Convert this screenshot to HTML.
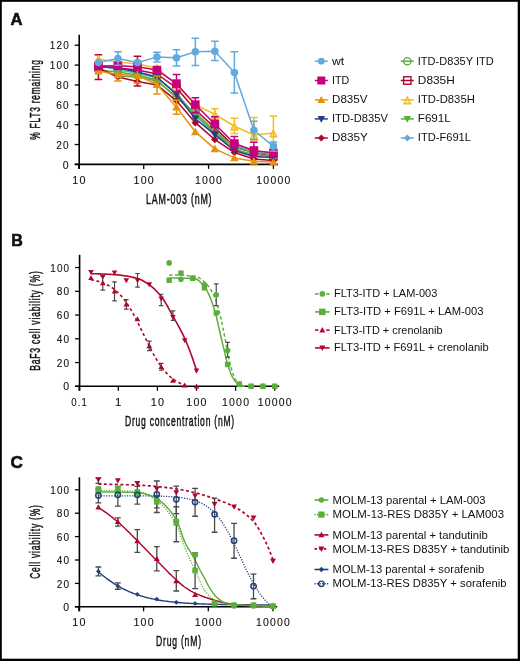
<!DOCTYPE html>
<html><head><meta charset="utf-8"><style>
html,body{margin:0;padding:0;background:#fff;}
body{width:520px;height:661px;overflow:hidden;position:relative;}
svg{position:absolute;left:0;top:0;font-family:"Liberation Sans", sans-serif;will-change:transform;}
</style></head><body>
<svg width="520" height="661" viewBox="0 0 520 661">
<text x="10.6" y="25.3" font-size="17.4" text-anchor="start" stroke="#111" stroke-width="0.6" font-weight="bold" textLength="12" lengthAdjust="spacingAndGlyphs" fill="#111">A</text>
<path d="M79.2 34.8V168.9M74.7 164.4H277.8" fill="none" stroke="#000" stroke-width="1.6"/>
<path d="M74.7 164.4H79.2" stroke="#000" stroke-width="1.3"/>
<path d="M74.7 144.53H79.2" stroke="#000" stroke-width="1.3"/>
<path d="M74.7 124.67H79.2" stroke="#000" stroke-width="1.3"/>
<path d="M74.7 104.8H79.2" stroke="#000" stroke-width="1.3"/>
<path d="M74.7 84.94H79.2" stroke="#000" stroke-width="1.3"/>
<path d="M74.7 65.07H79.2" stroke="#000" stroke-width="1.3"/>
<path d="M74.7 45.2H79.2" stroke="#000" stroke-width="1.3"/>
<path d="M78.9 164.4V168.9" stroke="#000" stroke-width="1.3"/>
<path d="M143.73 164.4V168.9" stroke="#000" stroke-width="1.3"/>
<path d="M208.56 164.4V168.9" stroke="#000" stroke-width="1.3"/>
<path d="M273.39 164.4V168.9" stroke="#000" stroke-width="1.3"/>
<text x="69.8" y="168.5" font-size="10.5" text-anchor="end" letter-spacing="1.2" stroke="#111" stroke-width="0.1" textLength="7.05" lengthAdjust="spacingAndGlyphs" fill="#111">0</text>
<text x="69.8" y="148.63" font-size="10.5" text-anchor="end" letter-spacing="1.2" stroke="#111" stroke-width="0.1" textLength="13.5" lengthAdjust="spacingAndGlyphs" fill="#111">20</text>
<text x="69.8" y="128.77" font-size="10.5" text-anchor="end" letter-spacing="1.2" stroke="#111" stroke-width="0.1" textLength="13.5" lengthAdjust="spacingAndGlyphs" fill="#111">40</text>
<text x="69.8" y="108.9" font-size="10.5" text-anchor="end" letter-spacing="1.2" stroke="#111" stroke-width="0.1" textLength="13.5" lengthAdjust="spacingAndGlyphs" fill="#111">60</text>
<text x="69.8" y="89.04" font-size="10.5" text-anchor="end" letter-spacing="1.2" stroke="#111" stroke-width="0.1" textLength="13.5" lengthAdjust="spacingAndGlyphs" fill="#111">80</text>
<text x="69.8" y="69.17" font-size="10.5" text-anchor="end" letter-spacing="1.2" stroke="#111" stroke-width="0.1" textLength="19.95" lengthAdjust="spacingAndGlyphs" fill="#111">100</text>
<text x="69.8" y="49.3" font-size="10.5" text-anchor="end" letter-spacing="1.2" stroke="#111" stroke-width="0.1" textLength="19.95" lengthAdjust="spacingAndGlyphs" fill="#111">120</text>
<text x="79.4" y="183.8" font-size="10.5" text-anchor="middle" letter-spacing="1.2" stroke="#111" stroke-width="0.1" textLength="14.5" lengthAdjust="spacingAndGlyphs" fill="#111">10</text>
<text x="144.23" y="183.8" font-size="10.5" text-anchor="middle" letter-spacing="1.2" stroke="#111" stroke-width="0.1" textLength="21.35" lengthAdjust="spacingAndGlyphs" fill="#111">100</text>
<text x="209.06" y="183.8" font-size="10.5" text-anchor="middle" letter-spacing="1.2" stroke="#111" stroke-width="0.1" textLength="28.2" lengthAdjust="spacingAndGlyphs" fill="#111">1000</text>
<text x="273.89" y="183.8" font-size="10.5" text-anchor="middle" letter-spacing="1.2" stroke="#111" stroke-width="0.1" textLength="35.05" lengthAdjust="spacingAndGlyphs" fill="#111">10000</text>
<text x="179.2" y="203.8" font-size="14.2" text-anchor="middle" letter-spacing="1.3" stroke="#111" stroke-width="0.45" textLength="66.3" lengthAdjust="spacingAndGlyphs" fill="#111">LAM-003 (nM)</text>
<text transform="translate(40 99.6) rotate(-90)" x="0" y="0" font-size="14.2" text-anchor="middle" letter-spacing="1.3" stroke="#111" stroke-width="0.45" textLength="80.5" lengthAdjust="spacingAndGlyphs" fill="#111">% FLT3 remaining</text>
<path d="M98.42 67.06L117.93 68.05L137.45 70.04L156.96 74.01L176.48 87.92L195.33 109.77L214.84 127.65L234.36 146.52L253.87 152.48L273.39 156.45" fill="none" stroke="#b0062c" stroke-width="1.5" stroke-linejoin="round"/>
<rect x="94.87" y="63.51" width="7.1" height="7.1" fill="none" stroke="#b0062c" stroke-width="1.5"/>
<rect x="114.38" y="64.5" width="7.1" height="7.1" fill="none" stroke="#b0062c" stroke-width="1.5"/>
<rect x="133.9" y="66.49" width="7.1" height="7.1" fill="none" stroke="#b0062c" stroke-width="1.5"/>
<rect x="153.41" y="70.46" width="7.1" height="7.1" fill="none" stroke="#b0062c" stroke-width="1.5"/>
<rect x="172.93" y="84.37" width="7.1" height="7.1" fill="none" stroke="#b0062c" stroke-width="1.5"/>
<rect x="191.78" y="106.22" width="7.1" height="7.1" fill="none" stroke="#b0062c" stroke-width="1.5"/>
<rect x="211.29" y="124.1" width="7.1" height="7.1" fill="none" stroke="#b0062c" stroke-width="1.5"/>
<rect x="230.81" y="142.97" width="7.1" height="7.1" fill="none" stroke="#b0062c" stroke-width="1.5"/>
<rect x="250.32" y="148.93" width="7.1" height="7.1" fill="none" stroke="#b0062c" stroke-width="1.5"/>
<rect x="269.84" y="152.9" width="7.1" height="7.1" fill="none" stroke="#b0062c" stroke-width="1.5"/>
<path d="M98.42 65.07L117.93 70.04L137.45 73.02L156.96 77.98L176.48 92.88L195.33 115.73L214.84 133.61L234.36 145.53L253.87 151.49L273.39 152.48" fill="none" stroke="#62a9e0" stroke-width="1.5" stroke-linejoin="round"/>
<path d="M98.42 61.57L101.92 65.07L98.42 68.57L94.92 65.07Z" fill="#62a9e0"/>
<path d="M117.93 66.54L121.43 70.04L117.93 73.54L114.43 70.04Z" fill="#62a9e0"/>
<path d="M137.45 69.52L140.95 73.02L137.45 76.52L133.95 73.02Z" fill="#62a9e0"/>
<path d="M156.96 74.48L160.46 77.98L156.96 81.48L153.46 77.98Z" fill="#62a9e0"/>
<path d="M176.48 89.38L179.98 92.88L176.48 96.38L172.98 92.88Z" fill="#62a9e0"/>
<path d="M195.33 112.23L198.83 115.73L195.33 119.23L191.83 115.73Z" fill="#62a9e0"/>
<path d="M214.84 130.11L218.34 133.61L214.84 137.11L211.34 133.61Z" fill="#62a9e0"/>
<path d="M234.36 142.03L237.86 145.53L234.36 149.03L230.86 145.53Z" fill="#62a9e0"/>
<path d="M253.87 147.99L257.37 151.49L253.87 154.99L250.37 151.49Z" fill="#62a9e0"/>
<path d="M273.39 148.98L276.89 152.48L273.39 155.98L269.89 152.48Z" fill="#62a9e0"/>
<path d="M98.42 69.04L117.93 76L137.45 76.99L156.96 80.96L176.48 96.86L195.33 114.74L214.84 132.61L234.36 149.5L253.87 154.47L273.39 156.45" fill="none" stroke="#5cae3c" stroke-width="1.5" stroke-linejoin="round"/>
<path d="M94.67 66.07L102.17 66.07L98.42 72.82Z" fill="#5cae3c"/>
<path d="M114.18 73.02L121.68 73.02L117.93 79.77Z" fill="#5cae3c"/>
<path d="M133.7 74.01L141.2 74.01L137.45 80.76Z" fill="#5cae3c"/>
<path d="M153.21 77.99L160.71 77.99L156.96 84.74Z" fill="#5cae3c"/>
<path d="M172.73 93.88L180.23 93.88L176.48 100.63Z" fill="#5cae3c"/>
<path d="M191.58 111.76L199.08 111.76L195.33 118.51Z" fill="#5cae3c"/>
<path d="M211.09 129.64L218.59 129.64L214.84 136.39Z" fill="#5cae3c"/>
<path d="M230.61 146.53L238.11 146.53L234.36 153.28Z" fill="#5cae3c"/>
<path d="M250.12 151.49L257.62 151.49L253.87 158.24Z" fill="#5cae3c"/>
<path d="M269.64 153.48L277.14 153.48L273.39 160.23Z" fill="#5cae3c"/>
<path d="M98.42 70.04L117.93 72.02L137.45 75L156.96 79.97L176.48 97.85L195.33 112.75L214.84 130.63L234.36 147.51L253.87 152.48L273.39 154.47" fill="none" stroke="#5cae3c" stroke-width="1.5" stroke-linejoin="round"/>
<circle cx="98.42" cy="70.04" r="3.45" fill="none" stroke="#5cae3c" stroke-width="1.5"/>
<circle cx="117.93" cy="72.02" r="3.45" fill="none" stroke="#5cae3c" stroke-width="1.5"/>
<circle cx="137.45" cy="75" r="3.45" fill="none" stroke="#5cae3c" stroke-width="1.5"/>
<circle cx="156.96" cy="79.97" r="3.45" fill="none" stroke="#5cae3c" stroke-width="1.5"/>
<circle cx="176.48" cy="97.85" r="3.45" fill="none" stroke="#5cae3c" stroke-width="1.5"/>
<circle cx="195.33" cy="112.75" r="3.45" fill="none" stroke="#5cae3c" stroke-width="1.5"/>
<circle cx="214.84" cy="130.63" r="3.45" fill="none" stroke="#5cae3c" stroke-width="1.5"/>
<circle cx="234.36" cy="147.51" r="3.45" fill="none" stroke="#5cae3c" stroke-width="1.5"/>
<circle cx="253.87" cy="152.48" r="3.45" fill="none" stroke="#5cae3c" stroke-width="1.5"/>
<circle cx="273.39" cy="154.47" r="3.45" fill="none" stroke="#5cae3c" stroke-width="1.5"/>
<path d="M98.42 68.05L117.93 76.99L137.45 81.56L156.96 84.94L176.48 100.83L195.33 122.68L214.84 139.57L234.36 152.48L253.87 158.94L273.39 160.43" fill="none" stroke="#b0062c" stroke-width="1.5" stroke-linejoin="round"/>
<path d="M98.42 54.64V79.47M94.62 54.64H102.22M94.62 79.47H102.22" fill="none" stroke="#b0062c" stroke-width="1.5"/>
<path d="M137.45 56.13V85.93M133.65 56.13H141.25M133.65 85.93H141.25" fill="none" stroke="#b0062c" stroke-width="1.5"/>
<path d="M98.42 64.3L102.17 68.05L98.42 71.8L94.67 68.05Z" fill="#b0062c"/>
<path d="M117.93 73.24L121.68 76.99L117.93 80.74L114.18 76.99Z" fill="#b0062c"/>
<path d="M137.45 77.81L141.2 81.56L137.45 85.31L133.7 81.56Z" fill="#b0062c"/>
<path d="M156.96 81.19L160.71 84.94L156.96 88.69L153.21 84.94Z" fill="#b0062c"/>
<path d="M176.48 97.08L180.23 100.83L176.48 104.58L172.73 100.83Z" fill="#b0062c"/>
<path d="M195.33 118.93L199.08 122.68L195.33 126.43L191.58 122.68Z" fill="#b0062c"/>
<path d="M214.84 135.82L218.59 139.57L214.84 143.32L211.09 139.57Z" fill="#b0062c"/>
<path d="M234.36 148.73L238.11 152.48L234.36 156.23L230.61 152.48Z" fill="#b0062c"/>
<path d="M253.87 155.19L257.62 158.94L253.87 162.69L250.12 158.94Z" fill="#b0062c"/>
<path d="M273.39 156.68L277.14 160.43L273.39 164.18L269.64 160.43Z" fill="#b0062c"/>
<path d="M98.42 66.06L117.93 68.05L137.45 72.02L156.96 76.99L176.48 94.47L195.33 118.71L214.84 134.6L234.36 150.49L253.87 156.45L273.39 157.45" fill="none" stroke="#21407f" stroke-width="1.5" stroke-linejoin="round"/>
<path d="M94.42 62.86L102.42 62.86L98.42 70.06Z" fill="#21407f"/>
<path d="M113.93 64.85L121.93 64.85L117.93 72.05Z" fill="#21407f"/>
<path d="M133.45 68.82L141.45 68.82L137.45 76.02Z" fill="#21407f"/>
<path d="M152.96 73.79L160.96 73.79L156.96 80.99Z" fill="#21407f"/>
<path d="M172.48 91.27L180.48 91.27L176.48 98.47Z" fill="#21407f"/>
<path d="M191.33 115.51L199.33 115.51L195.33 122.71Z" fill="#21407f"/>
<path d="M210.84 131.4L218.84 131.4L214.84 138.6Z" fill="#21407f"/>
<path d="M230.36 147.29L238.36 147.29L234.36 154.49Z" fill="#21407f"/>
<path d="M249.87 153.25L257.87 153.25L253.87 160.45Z" fill="#21407f"/>
<path d="M269.39 154.25L277.39 154.25L273.39 161.45Z" fill="#21407f"/>
<path d="M98.42 71.03L117.93 74.61L137.45 75.4L156.96 84.54L176.48 107.19L195.33 131.82L214.84 148.81L234.36 157.94L253.87 161.22L273.39 162.02" fill="none" stroke="#e8910f" stroke-width="1.5" stroke-linejoin="round"/>
<path d="M117.93 68.05V80.96M114.13 68.05H121.73M114.13 80.96H121.73" fill="none" stroke="#e8910f" stroke-width="1.5"/>
<path d="M156.96 76V93.98M153.16 76H160.76M153.16 93.98H160.76" fill="none" stroke="#e8910f" stroke-width="1.5"/>
<path d="M176.48 100.33V114.34M172.68 100.33H180.28M172.68 114.34H180.28" fill="none" stroke="#e8910f" stroke-width="1.5"/>
<path d="M137.45 69.04V82.95M133.65 69.04H141.25M133.65 82.95H141.25" fill="none" stroke="#e8910f" stroke-width="1.5"/>
<path d="M98.42 66.8L102.67 74.45L94.17 74.45Z" fill="#e8910f"/>
<path d="M117.93 70.38L122.18 78.03L113.68 78.03Z" fill="#e8910f"/>
<path d="M137.45 71.18L141.7 78.83L133.2 78.83Z" fill="#e8910f"/>
<path d="M156.96 80.31L161.21 87.96L152.71 87.96Z" fill="#e8910f"/>
<path d="M176.48 102.96L180.73 110.61L172.23 110.61Z" fill="#e8910f"/>
<path d="M195.33 127.59L199.58 135.24L191.08 135.24Z" fill="#e8910f"/>
<path d="M214.84 144.58L219.09 152.23L210.59 152.23Z" fill="#e8910f"/>
<path d="M234.36 153.72L238.61 161.37L230.11 161.37Z" fill="#e8910f"/>
<path d="M253.87 157L258.12 164.65L249.62 164.65Z" fill="#e8910f"/>
<path d="M273.39 157.79L277.64 165.44L269.14 165.44Z" fill="#e8910f"/>
<path d="M98.42 59.11L117.93 62.09L137.45 64.08L156.96 68.05L176.48 84.94L195.33 104.8L214.84 114.24L234.36 126.26L253.87 135L273.39 133.11" fill="none" stroke="#f0c024" stroke-width="1.5" stroke-linejoin="round"/>
<path d="M214.84 108.78V119.7M211.04 108.78H218.64M211.04 119.7H218.64" fill="none" stroke="#f0c024" stroke-width="1.5"/>
<path d="M234.36 118.21V133.61M230.56 118.21H238.16M230.56 133.61H238.16" fill="none" stroke="#f0c024" stroke-width="1.5"/>
<path d="M253.87 117.52V140.56M250.07 117.52H257.67M250.07 140.56H257.67" fill="none" stroke="#f0c024" stroke-width="1.5"/>
<path d="M273.39 115.93V148.51M269.59 115.93H277.19M269.59 148.51H277.19" fill="none" stroke="#f0c024" stroke-width="1.5"/>
<path d="M98.42 56.11L101.72 62.86L95.12 62.86Z" fill="rgba(240,200,80,0.45)" stroke="#f0c024" stroke-width="1.5" stroke-linejoin="miter"/>
<path d="M117.93 59.09L121.23 65.84L114.63 65.84Z" fill="rgba(240,200,80,0.45)" stroke="#f0c024" stroke-width="1.5" stroke-linejoin="miter"/>
<path d="M137.45 61.08L140.75 67.83L134.15 67.83Z" fill="rgba(240,200,80,0.45)" stroke="#f0c024" stroke-width="1.5" stroke-linejoin="miter"/>
<path d="M156.96 65.05L160.26 71.8L153.66 71.8Z" fill="rgba(240,200,80,0.45)" stroke="#f0c024" stroke-width="1.5" stroke-linejoin="miter"/>
<path d="M176.48 81.94L179.78 88.69L173.18 88.69Z" fill="rgba(240,200,80,0.45)" stroke="#f0c024" stroke-width="1.5" stroke-linejoin="miter"/>
<path d="M195.33 101.8L198.63 108.55L192.03 108.55Z" fill="rgba(240,200,80,0.45)" stroke="#f0c024" stroke-width="1.5" stroke-linejoin="miter"/>
<path d="M214.84 111.24L218.14 117.99L211.54 117.99Z" fill="rgba(240,200,80,0.45)" stroke="#f0c024" stroke-width="1.5" stroke-linejoin="miter"/>
<path d="M234.36 123.26L237.66 130.01L231.06 130.01Z" fill="rgba(240,200,80,0.45)" stroke="#f0c024" stroke-width="1.5" stroke-linejoin="miter"/>
<path d="M253.87 132L257.17 138.75L250.57 138.75Z" fill="rgba(240,200,80,0.45)" stroke="#f0c024" stroke-width="1.5" stroke-linejoin="miter"/>
<path d="M273.39 130.11L276.69 136.86L270.09 136.86Z" fill="rgba(240,200,80,0.45)" stroke="#f0c024" stroke-width="1.5" stroke-linejoin="miter"/>
<path d="M98.42 66.06L117.93 65.77L137.45 66.66L156.96 70.04L176.48 83.64L195.33 104.6L214.84 123.97L234.36 143.54L253.87 150.49L273.39 153.08" fill="none" stroke="#c8007f" stroke-width="1.5" stroke-linejoin="round"/>
<path d="M176.48 74.51V91.89M172.68 74.51H180.28M172.68 91.89H180.28" fill="none" stroke="#c8007f" stroke-width="1.5"/>
<path d="M195.33 97.85V112.75M191.53 97.85H199.13M191.53 112.75H199.13" fill="none" stroke="#c8007f" stroke-width="1.5"/>
<path d="M214.84 116.72V131.62M211.04 116.72H218.64M211.04 131.62H218.64" fill="none" stroke="#c8007f" stroke-width="1.5"/>
<path d="M234.36 136.59V150.49M230.56 136.59H238.16M230.56 150.49H238.16" fill="none" stroke="#c8007f" stroke-width="1.5"/>
<path d="M253.87 142.15V156.45M250.07 142.15H257.67M250.07 156.45H257.67" fill="none" stroke="#c8007f" stroke-width="1.5"/>
<rect x="94.12" y="61.76" width="8.6" height="8.6" fill="#c8007f"/>
<rect x="113.63" y="61.47" width="8.6" height="8.6" fill="#c8007f"/>
<rect x="133.15" y="62.36" width="8.6" height="8.6" fill="#c8007f"/>
<rect x="152.66" y="65.74" width="8.6" height="8.6" fill="#c8007f"/>
<rect x="172.18" y="79.34" width="8.6" height="8.6" fill="#c8007f"/>
<rect x="191.03" y="100.3" width="8.6" height="8.6" fill="#c8007f"/>
<rect x="210.54" y="119.67" width="8.6" height="8.6" fill="#c8007f"/>
<rect x="230.06" y="139.24" width="8.6" height="8.6" fill="#c8007f"/>
<rect x="249.57" y="146.19" width="8.6" height="8.6" fill="#c8007f"/>
<rect x="269.09" y="148.78" width="8.6" height="8.6" fill="#c8007f"/>
<path d="M98.42 62.49L117.93 58.51L137.45 62.49L156.96 57.12L176.48 57.72L195.33 51.76L214.84 51.26L234.36 72.52L253.87 130.23L273.39 146.32" fill="none" stroke="#62a9e0" stroke-width="1.5" stroke-linejoin="round"/>
<path d="M117.93 51.76V65.27M114.13 51.76H121.73M114.13 65.27H121.73" fill="none" stroke="#62a9e0" stroke-width="1.5"/>
<path d="M156.96 52.16V62.09M153.16 52.16H160.76M153.16 62.09H160.76" fill="none" stroke="#62a9e0" stroke-width="1.5"/>
<path d="M176.48 49.67V66.06M172.68 49.67H180.28M172.68 66.06H180.28" fill="none" stroke="#62a9e0" stroke-width="1.5"/>
<path d="M195.33 38.25V65.57M191.53 38.25H199.13M191.53 65.57H199.13" fill="none" stroke="#62a9e0" stroke-width="1.5"/>
<path d="M214.84 41.23V60.6M211.04 41.23H218.64M211.04 60.6H218.64" fill="none" stroke="#62a9e0" stroke-width="1.5"/>
<path d="M234.36 51.66V93.08M230.56 51.66H238.16M230.56 93.08H238.16" fill="none" stroke="#62a9e0" stroke-width="1.5"/>
<path d="M253.87 121.19V139.57M250.07 121.19H257.67M250.07 139.57H257.67" fill="none" stroke="#62a9e0" stroke-width="1.5"/>
<path d="M273.39 141.95V151.29M269.59 141.95H277.19M269.59 151.29H277.19" fill="none" stroke="#62a9e0" stroke-width="1.5"/>
<circle cx="98.42" cy="62.49" r="3.75" fill="#62a9e0"/>
<circle cx="117.93" cy="58.51" r="3.75" fill="#62a9e0"/>
<circle cx="137.45" cy="62.49" r="3.75" fill="#62a9e0"/>
<circle cx="156.96" cy="57.12" r="3.75" fill="#62a9e0"/>
<circle cx="176.48" cy="57.72" r="3.75" fill="#62a9e0"/>
<circle cx="195.33" cy="51.76" r="3.75" fill="#62a9e0"/>
<circle cx="214.84" cy="51.26" r="3.75" fill="#62a9e0"/>
<circle cx="234.36" cy="72.52" r="3.75" fill="#62a9e0"/>
<circle cx="253.87" cy="130.23" r="3.75" fill="#62a9e0"/>
<circle cx="273.39" cy="146.32" r="3.75" fill="#62a9e0"/>
<path d="M314.8 61.2L327.8 61.2" fill="none" stroke="#62a9e0" stroke-width="1.5" stroke-linejoin="round"/>
<circle cx="321.3" cy="61.2" r="3.4" fill="#62a9e0"/>
<text x="332" y="65" font-size="11.3" text-anchor="start" textLength="12.3" lengthAdjust="spacingAndGlyphs" fill="#111">wt</text>
<path d="M314.8 80.5L327.8 80.5" fill="none" stroke="#c8007f" stroke-width="1.5" stroke-linejoin="round"/>
<rect x="317.3" y="76.5" width="8" height="8" fill="#c8007f"/>
<text x="332" y="84.1" font-size="11.3" text-anchor="start" textLength="17.1" lengthAdjust="spacingAndGlyphs" fill="#111">ITD</text>
<path d="M314.8 99.9L327.8 99.9" fill="none" stroke="#e8910f" stroke-width="1.5" stroke-linejoin="round"/>
<path d="M321.3 95.9L325.3 103.1L317.3 103.1Z" fill="#e8910f"/>
<text x="332" y="102.9" font-size="11.3" text-anchor="start" textLength="35.5" lengthAdjust="spacingAndGlyphs" fill="#111">D835V</text>
<path d="M314.8 118.9L327.8 118.9" fill="none" stroke="#21407f" stroke-width="1.5" stroke-linejoin="round"/>
<path d="M317.55 115.93L325.05 115.93L321.3 122.68Z" fill="#21407f"/>
<text x="332" y="121.9" font-size="11.3" text-anchor="start" textLength="55.9" lengthAdjust="spacingAndGlyphs" fill="#111">ITD-D835V</text>
<path d="M314.8 138L327.8 138" fill="none" stroke="#b0062c" stroke-width="1.5" stroke-linejoin="round"/>
<path d="M321.3 134.5L324.8 138L321.3 141.5L317.8 138Z" fill="#b0062c"/>
<text x="332" y="141.2" font-size="11.3" text-anchor="start" textLength="35.8" lengthAdjust="spacingAndGlyphs" fill="#111">D835Y</text>
<path d="M400.8 61.2L413.8 61.2" fill="none" stroke="#5cae3c" stroke-width="1.5" stroke-linejoin="round"/>
<circle cx="407.3" cy="61.2" r="3.6" fill="none" stroke="#5cae3c" stroke-width="1.4"/>
<text x="417.8" y="65" font-size="11.3" text-anchor="start" textLength="75.9" lengthAdjust="spacingAndGlyphs" fill="#111">ITD-D835Y ITD</text>
<path d="M400.8 80.5L413.8 80.5" fill="none" stroke="#b0062c" stroke-width="1.5" stroke-linejoin="round"/>
<rect x="403.6" y="76.8" width="7.4" height="7.4" fill="none" stroke="#b0062c" stroke-width="1.4"/>
<text x="417.8" y="84.1" font-size="11.3" text-anchor="start" textLength="37" lengthAdjust="spacingAndGlyphs" fill="#111">D835H</text>
<path d="M400.8 99.9L413.8 99.9" fill="none" stroke="#f0c024" stroke-width="1.5" stroke-linejoin="round"/>
<path d="M407.3 96.8L410.68 103.7L403.92 103.7Z" fill="rgba(240,200,80,0.45)" stroke="#f0c024" stroke-width="1.4" stroke-linejoin="miter"/>
<text x="417.8" y="102.9" font-size="11.3" text-anchor="start" textLength="57" lengthAdjust="spacingAndGlyphs" fill="#111">ITD-D835H</text>
<path d="M400.8 118.9L413.8 118.9" fill="none" stroke="#5cae3c" stroke-width="1.5" stroke-linejoin="round"/>
<path d="M403.55 115.93L411.05 115.93L407.3 122.68Z" fill="#5cae3c"/>
<text x="417.8" y="121.9" font-size="11.3" text-anchor="start" textLength="33" lengthAdjust="spacingAndGlyphs" fill="#111">F691L</text>
<path d="M400.8 138L413.8 138" fill="none" stroke="#62a9e0" stroke-width="1.5" stroke-linejoin="round"/>
<path d="M407.3 134.5L410.8 138L407.3 141.5L403.8 138Z" fill="#62a9e0"/>
<text x="417.8" y="141.2" font-size="11.3" text-anchor="start" textLength="53.2" lengthAdjust="spacingAndGlyphs" fill="#111">ITD-F691L</text>
<text x="11.2" y="245.9" font-size="17.4" text-anchor="start" stroke="#111" stroke-width="0.6" font-weight="bold" textLength="11.6" lengthAdjust="spacingAndGlyphs" fill="#111">B</text>
<path d="M79.6 254.8V390.8M75.1 386.3H279.2" fill="none" stroke="#000" stroke-width="1.6"/>
<path d="M75.1 386.3H79.6" stroke="#000" stroke-width="1.3"/>
<path d="M75.1 362.55H79.6" stroke="#000" stroke-width="1.3"/>
<path d="M75.1 338.8H79.6" stroke="#000" stroke-width="1.3"/>
<path d="M75.1 315.05H79.6" stroke="#000" stroke-width="1.3"/>
<path d="M75.1 291.3H79.6" stroke="#000" stroke-width="1.3"/>
<path d="M75.1 267.55H79.6" stroke="#000" stroke-width="1.3"/>
<path d="M79.2 386.3V390.8" stroke="#000" stroke-width="1.3"/>
<path d="M118.3 386.3V390.8" stroke="#000" stroke-width="1.3"/>
<path d="M157.4 386.3V390.8" stroke="#000" stroke-width="1.3"/>
<path d="M196.5 386.3V390.8" stroke="#000" stroke-width="1.3"/>
<path d="M235.6 386.3V390.8" stroke="#000" stroke-width="1.3"/>
<path d="M274.7 386.3V390.8" stroke="#000" stroke-width="1.3"/>
<text x="70.2" y="390.4" font-size="10.5" text-anchor="end" letter-spacing="1.2" stroke="#111" stroke-width="0.1" textLength="7.05" lengthAdjust="spacingAndGlyphs" fill="#111">0</text>
<text x="70.2" y="366.65" font-size="10.5" text-anchor="end" letter-spacing="1.2" stroke="#111" stroke-width="0.1" textLength="13.5" lengthAdjust="spacingAndGlyphs" fill="#111">20</text>
<text x="70.2" y="342.9" font-size="10.5" text-anchor="end" letter-spacing="1.2" stroke="#111" stroke-width="0.1" textLength="13.5" lengthAdjust="spacingAndGlyphs" fill="#111">40</text>
<text x="70.2" y="319.15" font-size="10.5" text-anchor="end" letter-spacing="1.2" stroke="#111" stroke-width="0.1" textLength="13.5" lengthAdjust="spacingAndGlyphs" fill="#111">60</text>
<text x="70.2" y="295.4" font-size="10.5" text-anchor="end" letter-spacing="1.2" stroke="#111" stroke-width="0.1" textLength="13.5" lengthAdjust="spacingAndGlyphs" fill="#111">80</text>
<text x="70.2" y="271.65" font-size="10.5" text-anchor="end" letter-spacing="1.2" stroke="#111" stroke-width="0.1" textLength="19.95" lengthAdjust="spacingAndGlyphs" fill="#111">100</text>
<text x="79.7" y="406.2" font-size="10.5" text-anchor="middle" letter-spacing="1.2" stroke="#111" stroke-width="0.1" textLength="16.7" lengthAdjust="spacingAndGlyphs" fill="#111">0.1</text>
<text x="118.8" y="406.2" font-size="10.5" text-anchor="middle" letter-spacing="1.2" stroke="#111" stroke-width="0.1" textLength="7.65" lengthAdjust="spacingAndGlyphs" fill="#111">1</text>
<text x="157.9" y="406.2" font-size="10.5" text-anchor="middle" letter-spacing="1.2" stroke="#111" stroke-width="0.1" textLength="14.5" lengthAdjust="spacingAndGlyphs" fill="#111">10</text>
<text x="197" y="406.2" font-size="10.5" text-anchor="middle" letter-spacing="1.2" stroke="#111" stroke-width="0.1" textLength="21.35" lengthAdjust="spacingAndGlyphs" fill="#111">100</text>
<text x="236.1" y="406.2" font-size="10.5" text-anchor="middle" letter-spacing="1.2" stroke="#111" stroke-width="0.1" textLength="28.2" lengthAdjust="spacingAndGlyphs" fill="#111">1000</text>
<text x="275.2" y="406.2" font-size="10.5" text-anchor="middle" letter-spacing="1.2" stroke="#111" stroke-width="0.1" textLength="35.05" lengthAdjust="spacingAndGlyphs" fill="#111">10000</text>
<text x="180" y="426" font-size="14.2" text-anchor="middle" letter-spacing="1.3" stroke="#111" stroke-width="0.45" textLength="110" lengthAdjust="spacingAndGlyphs" fill="#111">Drug concentration (nM)</text>
<text transform="translate(40.2 320.6) rotate(-90)" x="0" y="0" font-size="14.2" text-anchor="middle" letter-spacing="1.3" stroke="#111" stroke-width="0.45" textLength="100.4" lengthAdjust="spacingAndGlyphs" fill="#111">BaF3 cell viability (%)</text>
<path d="M90.97 279.75L92.18 279.97L93.4 280.2L94.61 280.46L95.82 280.73L97.03 281.03L98.25 281.36L99.46 281.71L100.67 282.1L101.88 282.52L103.09 282.97L104.31 283.46L105.52 283.99L106.73 284.57L107.94 285.19L109.16 285.87L110.37 286.59L111.58 287.37L112.79 288.21L114.01 289.12L115.22 290.09L116.43 291.13L117.64 292.24L118.86 293.43L120.07 294.7L121.28 296.05L122.49 297.48L123.71 298.99L124.92 300.59L126.13 302.28L127.34 304.06L128.56 305.92L129.77 307.86L130.98 309.88L132.19 311.99L133.41 314.17L134.62 316.41L135.83 318.72L137.04 321.09L138.26 323.5L139.47 325.95L140.68 328.44L141.89 330.94L143.11 333.46L144.32 335.98L145.53 338.49L146.74 340.98L147.96 343.45L149.17 345.87L150.38 348.26L151.59 350.58L152.81 352.85L154.02 355.05L155.23 357.18L156.44 359.23L157.66 361.2L158.87 363.09L160.08 364.89L161.29 366.61L162.51 368.24L163.72 369.78L164.93 371.24L166.14 372.61L167.35 373.91L168.57 375.12L169.78 376.26L170.99 377.32L172.2 378.32L173.42 379.24L174.63 380.1L175.84 380.9L177.05 381.65L178.27 382.34L179.48 382.97L180.69 383.57L181.9 384.11L183.12 384.62L184.33 385.08L185.54 385.51L186.75 385.91L187.97 386.27" fill="none" stroke="#b0062c" stroke-width="1.6" stroke-dasharray="3 2.6" stroke-linejoin="round"/>
<path d="M90.97 273.73L91.85 273.73L92.73 273.73L93.61 273.74L94.49 273.75L95.37 273.77L96.25 273.79L97.13 273.81L98.01 273.83L98.89 273.86L99.76 273.89L100.64 273.92L101.52 273.96L102.4 273.99L103.28 274.03L104.16 274.07L105.04 274.12L105.92 274.16L106.8 274.21L107.68 274.26L108.56 274.31L109.44 274.36L110.32 274.41L111.2 274.46L112.08 274.52L112.96 274.57L113.84 274.63L114.71 274.69L115.59 274.75L116.47 274.82L117.35 274.89L118.23 274.98L119.11 275.06L119.99 275.16L120.87 275.26L121.75 275.37L122.63 275.49L123.51 275.61L124.39 275.74L125.27 275.87L126.15 276.01L127.03 276.16L127.91 276.32L128.79 276.48L129.66 276.65L130.54 276.83L131.42 277.01L132.3 277.2L133.18 277.4L134.06 277.61L134.94 277.82L135.82 278.04L136.7 278.26L137.58 278.49L138.46 278.76L139.34 279.07L140.22 279.42L141.1 279.81L141.98 280.24L142.86 280.7L143.74 281.19L144.61 281.71L145.49 282.25L146.37 282.81L147.25 283.39L148.13 283.98L149.01 284.58L149.89 285.2L150.77 285.85L151.65 286.55L152.53 287.28L153.41 288.05L154.29 288.86L155.17 289.71L156.05 290.59L156.93 291.5L157.81 292.45L158.69 293.43L159.56 294.45L160.44 295.49L161.32 296.57L162.2 297.73L163.08 298.98L163.96 300.31L164.84 301.71L165.72 303.17L166.6 304.69L167.48 306.25L168.36 307.83L169.24 309.44L170.12 311.06L171 312.68L171.88 314.29L172.76 315.87L173.64 317.44L174.51 318.99L175.39 320.53L176.27 322.08L177.15 323.64L178.03 325.22L178.91 326.82L179.79 328.45L180.67 330.11L181.55 331.81L182.43 333.57L183.31 335.38L184.19 337.26L185.07 339.2L185.95 341.21L186.83 343.3L187.71 345.45L188.59 347.66L189.46 349.94L190.34 352.27L191.22 354.67L192.1 357.12L192.98 359.63L193.86 362.18L194.74 364.79L195.62 367.45L196.5 370.15" fill="none" stroke="#b0062c" stroke-width="1.6" stroke-linejoin="round"/>
<path d="M102.74 275.86V290.11M100.44 275.86H105.04M100.44 290.11H105.04" fill="none" stroke="#4a4a4a" stroke-width="1.2"/>
<path d="M114.51 281.8V300.8M112.21 281.8H116.81M112.21 300.8H116.81" fill="none" stroke="#4a4a4a" stroke-width="1.2"/>
<path d="M126.28 299.61V309.11M123.98 299.61H128.58M123.98 309.11H128.58" fill="none" stroke="#4a4a4a" stroke-width="1.2"/>
<path d="M149.28 341.18V350.68M146.98 341.18H151.58M146.98 350.68H151.58" fill="none" stroke="#4a4a4a" stroke-width="1.2"/>
<path d="M161.19 363.38V370.27M158.89 363.38H163.49M158.89 370.27H163.49" fill="none" stroke="#4a4a4a" stroke-width="1.2"/>
<path d="M137.51 273.49V287.14M135.21 273.49H139.81M135.21 287.14H139.81" fill="none" stroke="#4a4a4a" stroke-width="1.2"/>
<path d="M161.19 294.27V305.55M158.89 294.27H163.49M158.89 305.55H163.49" fill="none" stroke="#4a4a4a" stroke-width="1.2"/>
<path d="M172.96 310.89V320.39M170.66 310.89H175.26M170.66 320.39H175.26" fill="none" stroke="#4a4a4a" stroke-width="1.2"/>
<path d="M90.97 274.96L93.77 280L88.17 280Z" fill="#b0062c"/>
<path d="M102.74 280.19L105.54 285.23L99.94 285.23Z" fill="#b0062c"/>
<path d="M114.51 288.38L117.31 293.42L111.71 293.42Z" fill="#b0062c"/>
<path d="M126.28 301.56L129.08 306.6L123.48 306.6Z" fill="#b0062c"/>
<path d="M137.51 316.17L140.31 321.21L134.71 321.21Z" fill="#b0062c"/>
<path d="M149.28 343.12L152.08 348.16L146.48 348.16Z" fill="#b0062c"/>
<path d="M161.19 363.91L163.99 368.94L158.39 368.94Z" fill="#b0062c"/>
<path d="M172.96 377.8L175.76 382.84L170.16 382.84Z" fill="#b0062c"/>
<path d="M184.73 382.55L187.53 387.59L181.93 387.59Z" fill="#b0062c"/>
<path d="M196.5 383.38L199.3 388.42L193.7 388.42Z" fill="#b0062c"/>
<path d="M88.17 270.06L93.77 270.06L90.97 275.1Z" fill="#b0062c"/>
<path d="M99.94 274.69L105.54 274.69L102.74 279.73Z" fill="#b0062c"/>
<path d="M111.71 270.54L117.31 270.54L114.51 275.58Z" fill="#b0062c"/>
<path d="M123.48 278.14L129.08 278.14L126.28 283.18Z" fill="#b0062c"/>
<path d="M134.71 278.14L140.31 278.14L137.51 283.18Z" fill="#b0062c"/>
<path d="M146.48 282.29L152.08 282.29L149.28 287.33Z" fill="#b0062c"/>
<path d="M158.39 296.54L163.99 296.54L161.19 301.58Z" fill="#b0062c"/>
<path d="M170.16 315.07L175.76 315.07L172.96 320.11Z" fill="#b0062c"/>
<path d="M181.93 338.22L187.53 338.22L184.73 343.26Z" fill="#b0062c"/>
<path d="M193.7 368.62L199.3 368.62L196.5 373.66Z" fill="#b0062c"/>
<path d="M169.17 274.91L169.8 274.91L170.44 274.92L171.07 274.92L171.7 274.93L172.33 274.93L172.97 274.94L173.6 274.95L174.23 274.96L174.87 274.98L175.5 274.99L176.13 275.01L176.76 275.03L177.4 275.05L178.03 275.07L178.66 275.09L179.29 275.12L179.93 275.15L180.56 275.18L181.19 275.21L181.83 275.24L182.46 275.27L183.09 275.31L183.72 275.35L184.36 275.39L184.99 275.43L185.62 275.47L186.26 275.52L186.89 275.56L187.52 275.61L188.15 275.66L188.79 275.72L189.42 275.77L190.05 275.83L190.68 275.89L191.32 275.95L191.95 276.01L192.58 276.07L193.22 276.14L193.85 276.21L194.48 276.28L195.11 276.35L195.75 276.46L196.38 276.63L197.01 276.84L197.64 277.1L198.28 277.41L198.91 277.76L199.54 278.14L200.18 278.55L200.81 278.99L201.44 279.46L202.07 279.95L202.71 280.46L203.34 280.98L203.97 281.51L204.61 282.05L205.24 282.6L205.87 283.2L206.5 283.87L207.14 284.6L207.77 285.38L208.4 286.23L209.03 287.12L209.67 288.06L210.3 289.05L210.93 290.08L211.57 291.15L212.2 292.26L212.83 293.46L213.46 294.77L214.1 296.17L214.73 297.68L215.36 299.28L216 300.97L216.63 302.75L217.26 304.62L217.89 306.69L218.53 308.93L219.16 311.33L219.79 313.86L220.42 316.5L221.06 319.21L221.69 321.98L222.32 324.81L222.96 327.83L223.59 331.02L224.22 334.31L224.85 337.64L225.49 340.95L226.12 344.18L226.75 347.53L227.39 351L228.02 354.46L228.65 357.77L229.28 360.81L229.92 363.43L230.55 365.73L231.18 367.97L231.81 370.13L232.45 372.17L233.08 374.08L233.71 375.83L234.35 377.39L234.98 378.73L235.61 379.84L236.24 380.69L236.88 381.43L237.51 382.12L238.14 382.74L238.78 383.31L239.41 383.82L240.04 384.27L240.67 384.67L241.31 385.02L241.94 385.32L242.57 385.58L243.2 385.82L243.84 386.02L244.47 386.19L245.1 386.3" fill="none" stroke="#5cae3c" stroke-width="1.45" stroke-dasharray="3.4 2.4" stroke-linejoin="round"/>
<path d="M169.17 277.88L169.79 277.88L170.41 277.88L171.03 277.89L171.65 277.89L172.27 277.89L172.89 277.9L173.51 277.9L174.13 277.91L174.75 277.92L175.37 277.93L175.99 277.94L176.61 277.95L177.23 277.96L177.85 277.97L178.47 277.99L179.09 278L179.71 278.02L180.33 278.03L180.95 278.05L181.57 278.07L182.19 278.09L182.81 278.12L183.43 278.14L184.05 278.16L184.67 278.19L185.29 278.22L185.91 278.25L186.53 278.28L187.15 278.31L187.77 278.34L188.39 278.37L189.01 278.41L189.63 278.45L190.25 278.49L190.87 278.53L191.49 278.57L192.11 278.61L192.73 278.65L193.35 278.7L193.97 278.75L194.59 278.8L195.21 278.85L195.83 278.98L196.45 279.2L197.07 279.49L197.69 279.86L198.31 280.29L198.93 280.79L199.55 281.34L200.17 281.93L200.79 282.57L201.41 283.24L202.04 283.93L202.66 284.65L203.28 285.37L203.9 286.11L204.52 286.85L205.14 287.69L205.76 288.63L206.38 289.67L207 290.8L207.62 292L208.24 293.27L208.86 294.59L209.48 295.96L210.1 297.36L210.72 298.84L211.34 300.42L211.96 302.09L212.58 303.86L213.2 305.72L213.82 307.66L214.44 309.68L215.06 311.77L215.68 313.94L216.3 316.24L216.92 318.78L217.54 321.5L218.16 324.33L218.78 327.2L219.4 330.03L220.02 332.76L220.64 335.41L221.26 338.03L221.88 340.64L222.5 343.24L223.12 345.82L223.74 348.4L224.36 351.01L224.98 353.69L225.6 356.39L226.22 359.01L226.84 361.44L227.46 363.62L228.08 365.67L228.7 367.65L229.32 369.55L229.94 371.34L230.56 372.99L231.18 374.48L231.8 375.79L232.42 376.92L233.04 378L233.66 379.03L234.28 380L234.9 380.9L235.52 381.72L236.14 382.45L236.76 383.08L237.38 383.61L238 384.04L238.62 384.42L239.24 384.79L239.86 385.14L240.48 385.46L241.1 385.74L241.72 385.97L242.34 386.15L242.96 386.26L243.58 386.3" fill="none" stroke="#5cae3c" stroke-width="1.5" stroke-linejoin="round"/>
<path d="M216.25 283.82V305.55M213.95 283.82H218.55M213.95 305.55H218.55" fill="none" stroke="#4a4a4a" stroke-width="1.2"/>
<path d="M227.62 342.36V357.09M225.32 342.36H229.92M225.32 357.09H229.92" fill="none" stroke="#4a4a4a" stroke-width="1.2"/>
<circle cx="169.17" cy="262.92" r="2.8" fill="#5cae3c"/>
<circle cx="180.94" cy="279.19" r="2.8" fill="#5cae3c"/>
<circle cx="192.71" cy="278.24" r="2.8" fill="#5cae3c"/>
<circle cx="204.48" cy="284.77" r="2.8" fill="#5cae3c"/>
<circle cx="216.25" cy="294.86" r="2.8" fill="#5cae3c"/>
<circle cx="227.62" cy="350.44" r="2.8" fill="#5cae3c"/>
<circle cx="239.39" cy="384.52" r="2.8" fill="#5cae3c"/>
<circle cx="251.16" cy="386.3" r="2.8" fill="#5cae3c"/>
<circle cx="262.93" cy="386.3" r="2.8" fill="#5cae3c"/>
<circle cx="274.7" cy="386.3" r="2.8" fill="#5cae3c"/>
<rect x="166.47" y="277.56" width="5.4" height="5.4" fill="#5cae3c"/>
<rect x="178.24" y="270.43" width="5.4" height="5.4" fill="#5cae3c"/>
<rect x="190.01" y="275.54" width="5.4" height="5.4" fill="#5cae3c"/>
<rect x="201.78" y="285.16" width="5.4" height="5.4" fill="#5cae3c"/>
<rect x="213.55" y="310.21" width="5.4" height="5.4" fill="#5cae3c"/>
<rect x="224.92" y="361.75" width="5.4" height="5.4" fill="#5cae3c"/>
<rect x="236.69" y="381.23" width="5.4" height="5.4" fill="#5cae3c"/>
<rect x="248.46" y="383.6" width="5.4" height="5.4" fill="#5cae3c"/>
<rect x="260.23" y="383.6" width="5.4" height="5.4" fill="#5cae3c"/>
<rect x="272" y="383.6" width="5.4" height="5.4" fill="#5cae3c"/>
<path d="M315 293.9L318.4 293.9" fill="none" stroke="#5cae3c" stroke-width="1.6" stroke-linejoin="round"/>
<path d="M326.2 293.9L329.6 293.9" fill="none" stroke="#5cae3c" stroke-width="1.6" stroke-linejoin="round"/>
<circle cx="322.3" cy="293.9" r="2.8" fill="#5cae3c"/>
<text x="334" y="297.4" font-size="10.9" text-anchor="start" textLength="103.3" lengthAdjust="spacingAndGlyphs" fill="#111">FLT3-ITD + LAM-003</text>
<path d="M315 311.9L329.6 311.9" fill="none" stroke="#5cae3c" stroke-width="1.6" stroke-linejoin="round"/>
<rect x="319.05" y="308.65" width="6.5" height="6.5" fill="#5cae3c"/>
<text x="334" y="315.4" font-size="10.9" text-anchor="start" textLength="149.5" lengthAdjust="spacingAndGlyphs" fill="#111">FLT3-ITD + F691L + LAM-003</text>
<path d="M315 330.1L318.4 330.1" fill="none" stroke="#b0062c" stroke-width="1.6" stroke-linejoin="round"/>
<path d="M326.2 330.1L329.6 330.1" fill="none" stroke="#b0062c" stroke-width="1.6" stroke-linejoin="round"/>
<path d="M322.3 327L325.3 332.4L319.3 332.4Z" fill="#b0062c"/>
<text x="334" y="333.6" font-size="10.9" text-anchor="start" textLength="108.6" lengthAdjust="spacingAndGlyphs" fill="#111">FLT3-ITD + crenolanib</text>
<path d="M315 347.9L329.6 347.9" fill="none" stroke="#b0062c" stroke-width="1.6" stroke-linejoin="round"/>
<path d="M319.3 345.6L325.3 345.6L322.3 351Z" fill="#b0062c"/>
<text x="334" y="351.4" font-size="10.9" text-anchor="start" textLength="154.8" lengthAdjust="spacingAndGlyphs" fill="#111">FLT3-ITD + F691L + crenolanib</text>
<text x="10.6" y="468.3" font-size="17.4" text-anchor="start" stroke="#111" stroke-width="0.6" font-weight="bold" textLength="12.4" lengthAdjust="spacingAndGlyphs" fill="#111">C</text>
<path d="M79.4 477.3V611.3M74.9 606.8H277.2" fill="none" stroke="#000" stroke-width="1.6"/>
<path d="M74.9 606.8H79.4" stroke="#000" stroke-width="1.3"/>
<path d="M74.9 583.4H79.4" stroke="#000" stroke-width="1.3"/>
<path d="M74.9 560H79.4" stroke="#000" stroke-width="1.3"/>
<path d="M74.9 536.6H79.4" stroke="#000" stroke-width="1.3"/>
<path d="M74.9 513.2H79.4" stroke="#000" stroke-width="1.3"/>
<path d="M74.9 489.8H79.4" stroke="#000" stroke-width="1.3"/>
<path d="M78.9 606.8V611.3" stroke="#000" stroke-width="1.3"/>
<path d="M143.6 606.8V611.3" stroke="#000" stroke-width="1.3"/>
<path d="M208.3 606.8V611.3" stroke="#000" stroke-width="1.3"/>
<path d="M273 606.8V611.3" stroke="#000" stroke-width="1.3"/>
<text x="70.2" y="610.9" font-size="10.5" text-anchor="end" letter-spacing="1.2" stroke="#111" stroke-width="0.1" textLength="7.05" lengthAdjust="spacingAndGlyphs" fill="#111">0</text>
<text x="70.2" y="587.5" font-size="10.5" text-anchor="end" letter-spacing="1.2" stroke="#111" stroke-width="0.1" textLength="13.5" lengthAdjust="spacingAndGlyphs" fill="#111">20</text>
<text x="70.2" y="564.1" font-size="10.5" text-anchor="end" letter-spacing="1.2" stroke="#111" stroke-width="0.1" textLength="13.5" lengthAdjust="spacingAndGlyphs" fill="#111">40</text>
<text x="70.2" y="540.7" font-size="10.5" text-anchor="end" letter-spacing="1.2" stroke="#111" stroke-width="0.1" textLength="13.5" lengthAdjust="spacingAndGlyphs" fill="#111">60</text>
<text x="70.2" y="517.3" font-size="10.5" text-anchor="end" letter-spacing="1.2" stroke="#111" stroke-width="0.1" textLength="13.5" lengthAdjust="spacingAndGlyphs" fill="#111">80</text>
<text x="70.2" y="493.9" font-size="10.5" text-anchor="end" letter-spacing="1.2" stroke="#111" stroke-width="0.1" textLength="19.95" lengthAdjust="spacingAndGlyphs" fill="#111">100</text>
<text x="79.4" y="626.4" font-size="10.5" text-anchor="middle" letter-spacing="1.2" stroke="#111" stroke-width="0.1" textLength="14.5" lengthAdjust="spacingAndGlyphs" fill="#111">10</text>
<text x="144.1" y="626.4" font-size="10.5" text-anchor="middle" letter-spacing="1.2" stroke="#111" stroke-width="0.1" textLength="21.35" lengthAdjust="spacingAndGlyphs" fill="#111">100</text>
<text x="208.8" y="626.4" font-size="10.5" text-anchor="middle" letter-spacing="1.2" stroke="#111" stroke-width="0.1" textLength="28.2" lengthAdjust="spacingAndGlyphs" fill="#111">1000</text>
<text x="273.5" y="626.4" font-size="10.5" text-anchor="middle" letter-spacing="1.2" stroke="#111" stroke-width="0.1" textLength="35.05" lengthAdjust="spacingAndGlyphs" fill="#111">10000</text>
<text x="178.9" y="646.2" font-size="14.2" text-anchor="middle" letter-spacing="1.3" stroke="#111" stroke-width="0.45" textLength="45.8" lengthAdjust="spacingAndGlyphs" fill="#111">Drug (nM)</text>
<text transform="translate(40.2 541.6) rotate(-90)" x="0" y="0" font-size="14.2" text-anchor="middle" letter-spacing="1.3" stroke="#111" stroke-width="0.45" textLength="74.4" lengthAdjust="spacingAndGlyphs" fill="#111">Cell viability (%)</text>
<path d="M98.38 571.9L99.83 573.12L101.29 574.32L102.74 575.49L104.2 576.63L105.65 577.75L107.11 578.83L108.56 579.88L110.02 580.91L111.47 581.9L112.93 582.86L114.38 583.79L115.84 584.7L117.29 585.57L118.75 586.41L120.2 587.23L121.66 588.01L123.11 588.77L124.57 589.5L126.03 590.2L127.48 590.87L128.94 591.52L130.39 592.14L131.85 592.74L133.3 593.31L134.76 593.86L136.21 594.38L137.67 594.89L139.12 595.37L140.58 595.83L142.03 596.27L143.49 596.69L144.94 597.09L146.4 597.48L147.85 597.84L149.31 598.19L150.76 598.53L152.22 598.85L153.67 599.15L155.13 599.44L156.58 599.71L158.04 599.98L159.49 600.23L160.95 600.46L162.41 600.69L163.86 600.91L165.32 601.11L166.77 601.31L168.23 601.49L169.68 601.67L171.14 601.84L172.59 602L174.05 602.15L175.5 602.29L176.96 602.43L178.41 602.56L179.87 602.68L181.32 602.8L182.78 602.91L184.23 603.02L185.69 603.12L187.14 603.21L188.6 603.3L190.05 603.39L191.51 603.47L192.96 603.55L194.42 603.62L195.87 603.69L197.33 603.76L198.79 603.82L200.24 603.88L201.7 603.93L203.15 603.99L204.61 604.04L206.06 604.09L207.52 604.13L208.97 604.18L210.43 604.22L211.88 604.26L213.34 604.29L214.79 604.33L216.25 604.36L217.7 604.39L219.16 604.42L220.61 604.45L222.07 604.48L223.52 604.5L224.98 604.53L226.43 604.55L227.89 604.57L229.34 604.59L230.8 604.61L232.25 604.63L233.71 604.65L235.16 604.66L236.62 604.68L238.08 604.69L239.53 604.71L240.99 604.72L242.44 604.73L243.9 604.75L245.35 604.76L246.81 604.77L248.26 604.78L249.72 604.79L251.17 604.8L252.63 604.81L254.08 604.81L255.54 604.82L256.99 604.83L258.45 604.84L259.9 604.84L261.36 604.85L262.81 604.86L264.27 604.86L265.72 604.87L267.18 604.87L268.63 604.88L270.09 604.88L271.54 604.88L273 604.89" fill="none" stroke="#21407f" stroke-width="1.4" stroke-linejoin="round"/>
<path d="M98.38 495.77L99.83 495.77L101.29 495.77L102.74 495.77L104.2 495.78L105.65 495.78L107.11 495.78L108.56 495.78L110.02 495.78L111.47 495.78L112.93 495.78L114.38 495.78L115.84 495.79L117.29 495.79L118.75 495.79L120.2 495.79L121.66 495.8L123.11 495.8L124.57 495.8L126.03 495.81L127.48 495.81L128.94 495.82L130.39 495.82L131.85 495.83L133.3 495.83L134.76 495.84L136.21 495.85L137.67 495.86L139.12 495.87L140.58 495.88L142.03 495.89L143.49 495.9L144.94 495.92L146.4 495.93L147.85 495.95L149.31 495.97L150.76 495.99L152.22 496.01L153.67 496.04L155.13 496.07L156.58 496.1L158.04 496.14L159.49 496.18L160.95 496.22L162.41 496.27L163.86 496.33L165.32 496.39L166.77 496.45L168.23 496.53L169.68 496.61L171.14 496.7L172.59 496.8L174.05 496.91L175.5 497.03L176.96 497.17L178.41 497.31L179.87 497.48L181.32 497.66L182.78 497.86L184.23 498.08L185.69 498.33L187.14 498.6L188.6 498.89L190.05 499.22L191.51 499.58L192.96 499.98L194.42 500.42L195.87 500.9L197.33 501.42L198.79 502L200.24 502.64L201.7 503.33L203.15 504.09L204.61 504.92L206.06 505.83L207.52 506.81L208.97 507.88L210.43 509.05L211.88 510.31L213.34 511.67L214.79 513.15L216.25 514.73L217.7 516.43L219.16 518.25L220.61 520.19L222.07 522.25L223.52 524.44L224.98 526.75L226.43 529.18L227.89 531.73L229.34 534.39L230.8 537.15L232.25 540L233.71 542.93L235.16 545.94L236.62 549.01L238.08 552.11L239.53 555.24L240.99 558.38L242.44 561.52L243.9 564.63L245.35 567.71L246.81 570.73L248.26 573.69L249.72 576.56L251.17 579.34L252.63 582.02L254.08 584.6L255.54 587.06L256.99 589.4L258.45 591.61L259.9 593.71L261.36 595.68L262.81 597.53L264.27 599.26L265.72 600.87L267.18 602.36L268.63 603.75L270.09 605.04L271.54 606.23L273 606.8" fill="none" stroke="#21407f" stroke-width="1.3" stroke-dasharray="1.2 1.4" stroke-linejoin="round"/>
<path d="M98.38 507.35L99.83 508.3L101.29 509.28L102.74 510.28L104.2 511.31L105.65 512.36L107.11 513.43L108.56 514.52L110.02 515.64L111.47 516.77L112.93 517.93L114.38 519.1L115.84 520.29L117.29 521.5L118.75 522.74L120.2 524.01L121.66 525.33L123.11 526.67L124.57 528.05L126.03 529.45L127.48 530.87L128.94 532.3L130.39 533.75L131.85 535.21L133.3 536.67L134.76 538.13L136.21 539.58L137.67 541.03L139.12 542.48L140.58 543.95L142.03 545.43L143.49 546.91L144.94 548.41L146.4 549.91L147.85 551.41L149.31 552.92L150.76 554.42L152.22 555.92L153.67 557.41L155.13 558.89L156.58 560.36L158.04 561.83L159.49 563.31L160.95 564.79L162.41 566.28L163.86 567.76L165.32 569.24L166.77 570.71L168.23 572.17L169.68 573.62L171.14 575.04L172.59 576.45L174.05 577.83L175.5 579.18L176.96 580.5L178.41 581.83L179.87 583.13L181.32 584.4L182.78 585.61L184.23 586.73L185.69 587.75L187.14 588.72L188.6 589.65L190.05 590.52L191.51 591.36L192.96 592.14L194.42 592.88L195.87 593.56L197.33 594.21L198.79 594.83L200.24 595.42L201.7 595.99L203.15 596.53L204.61 597.05L206.06 597.56L207.52 598.05L208.97 598.52L210.43 598.98L211.88 599.44L213.34 599.88L214.79 600.32L216.25 600.74L217.7 601.15L219.16 601.54L220.61 601.91L222.07 602.27L223.52 602.61L224.98 602.92L226.43 603.22L227.89 603.51L229.34 603.78L230.8 604.03L232.25 604.25L233.71 604.43L235.16 604.58L236.62 604.71L238.08 604.84L239.53 604.96L240.99 605.07L242.44 605.17L243.9 605.27L245.35 605.36L246.81 605.45L248.26 605.52L249.72 605.59L251.17 605.66L252.63 605.71L254.08 605.77L255.54 605.82L256.99 605.87L258.45 605.92L259.9 605.96L261.36 606.01L262.81 606.05L264.27 606.08L265.72 606.12L267.18 606.15L268.63 606.17L270.09 606.19L271.54 606.21L273 606.21" fill="none" stroke="#b0062c" stroke-width="1.45" stroke-linejoin="round"/>
<path d="M98.38 484.18L99.83 484.19L101.29 484.19L102.74 484.2L104.2 484.21L105.65 484.23L107.11 484.25L108.56 484.27L110.02 484.29L111.47 484.32L112.93 484.35L114.38 484.38L115.84 484.41L117.29 484.45L118.75 484.49L120.2 484.53L121.66 484.57L123.11 484.62L124.57 484.66L126.03 484.71L127.48 484.76L128.94 484.81L130.39 484.86L131.85 484.91L133.3 484.97L134.76 485.02L136.21 485.08L137.67 485.13L139.12 485.2L140.58 485.26L142.03 485.34L143.49 485.43L144.94 485.52L146.4 485.62L147.85 485.73L149.31 485.84L150.76 485.96L152.22 486.08L153.67 486.21L155.13 486.35L156.58 486.49L158.04 486.64L159.49 486.79L160.95 486.94L162.41 487.1L163.86 487.27L165.32 487.43L166.77 487.6L168.23 487.78L169.68 487.95L171.14 488.13L172.59 488.32L174.05 488.53L175.5 488.75L176.96 488.98L178.41 489.23L179.87 489.48L181.32 489.75L182.78 490.03L184.23 490.32L185.69 490.62L187.14 490.92L188.6 491.24L190.05 491.56L191.51 491.89L192.96 492.22L194.42 492.56L195.87 492.91L197.33 493.29L198.79 493.68L200.24 494.09L201.7 494.52L203.15 494.96L204.61 495.42L206.06 495.89L207.52 496.37L208.97 496.86L210.43 497.36L211.88 497.87L213.34 498.38L214.79 498.89L216.25 499.4L217.7 499.91L219.16 500.42L220.61 500.93L222.07 501.46L223.52 502L224.98 502.56L226.43 503.14L227.89 503.74L229.34 504.37L230.8 505.04L232.25 505.74L233.71 506.47L235.16 507.25L236.62 508.06L238.08 508.91L239.53 509.81L240.99 510.76L242.44 511.76L243.9 512.81L245.35 513.93L246.81 515.11L248.26 516.36L249.72 517.68L251.17 519.08L252.63 520.56L254.08 522.13L255.54 523.97L256.99 526.06L258.45 528.38L259.9 530.89L261.36 533.54L262.81 536.31L264.27 539.15L265.72 542.06L267.18 545.19L268.63 548.55L270.09 552.1L271.54 555.81L273 559.65" fill="none" stroke="#b0062c" stroke-width="1.7" stroke-dasharray="3 2.5" stroke-linejoin="round"/>
<path d="M98.38 491.91L99.83 491.91L101.29 491.91L102.74 491.91L104.2 491.92L105.65 491.93L107.11 491.94L108.56 491.95L110.02 491.96L111.47 491.98L112.93 491.99L114.38 492.01L115.84 492.04L117.29 492.06L118.75 492.08L120.2 492.11L121.66 492.14L123.11 492.17L124.57 492.21L126.03 492.24L127.48 492.28L128.94 492.32L130.39 492.37L131.85 492.41L133.3 492.46L134.76 492.51L136.21 492.57L137.67 492.62L139.12 492.74L140.58 492.92L142.03 493.16L143.49 493.46L144.94 493.8L146.4 494.18L147.85 494.59L149.31 495.01L150.76 495.48L152.22 496.06L153.67 496.76L155.13 497.55L156.58 498.43L158.04 499.39L159.49 500.43L160.95 501.55L162.41 502.77L163.86 504.09L165.32 505.5L166.77 507.02L168.23 508.64L169.68 510.38L171.14 512.23L172.59 514.2L174.05 516.29L175.5 518.51L176.96 520.96L178.41 524.29L179.87 528.28L181.32 532.58L182.78 536.83L184.23 540.66L185.69 543.79L187.14 546.55L188.6 549.09L190.05 551.49L191.51 553.85L192.96 556.24L194.42 558.76L195.87 561.5L197.33 564.49L198.79 567.56L200.24 570.47L201.7 573.17L203.15 575.79L204.61 578.41L206.06 581.17L207.52 584.05L208.97 586.81L210.43 589.24L211.88 591.43L213.34 593.44L214.79 595.2L216.25 596.74L217.7 598.12L219.16 599.34L220.61 600.4L222.07 601.41L223.52 602.29L224.98 602.91L226.43 603.31L227.89 603.66L229.34 603.95L230.8 604.2L232.25 604.39L233.71 604.55L235.16 604.68L236.62 604.8L238.08 604.9L239.53 605L240.99 605.09L242.44 605.17L243.9 605.25L245.35 605.32L246.81 605.38L248.26 605.44L249.72 605.5L251.17 605.55L252.63 605.6L254.08 605.65L255.54 605.7L256.99 605.74L258.45 605.79L259.9 605.83L261.36 605.87L262.81 605.91L264.27 605.95L265.72 605.98L267.18 606.01L268.63 606.04L270.09 606.06L271.54 606.08L273 606.1" fill="none" stroke="#5cae3c" stroke-width="1.45" stroke-linejoin="round"/>
<path d="M98.38 490.38L99.83 490.39L101.29 490.39L102.74 490.4L104.2 490.41L105.65 490.42L107.11 490.44L108.56 490.46L110.02 490.48L111.47 490.51L112.93 490.54L114.38 490.57L115.84 490.61L117.29 490.65L118.75 490.69L120.2 490.74L121.66 490.79L123.11 490.84L124.57 490.9L126.03 490.96L127.48 491.02L128.94 491.09L130.39 491.16L131.85 491.24L133.3 491.32L134.76 491.4L136.21 491.49L137.67 491.58L139.12 491.76L140.58 492.06L142.03 492.47L143.49 492.97L144.94 493.57L146.4 494.24L147.85 494.98L149.31 495.79L150.76 496.65L152.22 497.55L153.67 498.48L155.13 499.44L156.58 500.41L158.04 501.44L159.49 502.58L160.95 503.85L162.41 505.25L163.86 506.76L165.32 508.4L166.77 510.15L168.23 512.03L169.68 514.03L171.14 516.14L172.59 518.37L174.05 520.72L175.5 523.18L176.96 525.85L178.41 529.27L179.87 533.28L181.32 537.61L182.78 541.96L184.23 546.06L185.69 549.67L187.14 553.1L188.6 556.41L190.05 559.64L191.51 562.8L192.96 565.92L194.42 569.02L195.87 572.12L197.33 575.34L198.79 578.61L200.24 581.83L201.7 584.9L203.15 587.71L204.61 590.15L206.06 592.2L207.52 594.01L208.97 595.57L210.43 596.87L211.88 598.09L213.34 599.24L214.79 600.31L216.25 601.26L217.7 602.05L219.16 602.67L220.61 603.07L222.07 603.41L223.52 603.71L224.98 603.98L226.43 604.22L227.89 604.43L229.34 604.61L230.8 604.77L232.25 604.91L233.71 605.02L235.16 605.12L236.62 605.21L238.08 605.3L239.53 605.37L240.99 605.45L242.44 605.52L243.9 605.58L245.35 605.64L246.81 605.69L248.26 605.73L249.72 605.78L251.17 605.81L252.63 605.85L254.08 605.87L255.54 605.9L256.99 605.93L258.45 605.95L259.9 605.98L261.36 606L262.81 606.02L264.27 606.04L265.72 606.06L267.18 606.07L268.63 606.08L270.09 606.09L271.54 606.1L273 606.1" fill="none" stroke="#5cae3c" stroke-width="1.3" stroke-dasharray="1.2 1.4" stroke-linejoin="round"/>
<path d="M98.38 488.63V502.9M95.48 488.63H101.28M95.48 502.9H101.28" fill="none" stroke="#4a4a4a" stroke-width="1.3"/>
<path d="M117.85 486.29V506.18M114.95 486.29H120.75M114.95 506.18H120.75" fill="none" stroke="#4a4a4a" stroke-width="1.3"/>
<path d="M137.33 486.29V504.19M134.43 486.29H140.23M134.43 504.19H140.23" fill="none" stroke="#4a4a4a" stroke-width="1.3"/>
<path d="M156.81 481.02V512.5M153.91 481.02H159.71M153.91 512.5H159.71" fill="none" stroke="#4a4a4a" stroke-width="1.3"/>
<path d="M176.28 486.06V513.67M173.38 486.06H179.18M173.38 513.67H179.18" fill="none" stroke="#4a4a4a" stroke-width="1.3"/>
<path d="M195.09 488.28V516.24M192.19 488.28H197.99M192.19 516.24H197.99" fill="none" stroke="#4a4a4a" stroke-width="1.3"/>
<path d="M214.57 498.22V532.27M211.67 498.22H217.47M211.67 532.27H217.47" fill="none" stroke="#4a4a4a" stroke-width="1.3"/>
<path d="M234.05 523.38V558.25M231.15 523.38H236.95M231.15 558.25H236.95" fill="none" stroke="#4a4a4a" stroke-width="1.3"/>
<path d="M253.52 574.16V598.73M250.62 574.16H256.42M250.62 598.73H256.42" fill="none" stroke="#4a4a4a" stroke-width="1.3"/>
<path d="M117.85 517.88V526.07M114.95 517.88H120.75M114.95 526.07H120.75" fill="none" stroke="#4a4a4a" stroke-width="1.3"/>
<path d="M137.33 529.58V552.39M134.43 529.58H140.23M134.43 552.39H140.23" fill="none" stroke="#4a4a4a" stroke-width="1.3"/>
<path d="M156.81 546.54V570.88M153.91 546.54H159.71M153.91 570.88H159.71" fill="none" stroke="#4a4a4a" stroke-width="1.3"/>
<path d="M176.28 570.53V591M173.38 570.53H179.18M173.38 591H179.18" fill="none" stroke="#4a4a4a" stroke-width="1.3"/>
<path d="M98.38 478.1V483.36M95.48 478.1H101.28M95.48 483.36H101.28" fill="none" stroke="#4a4a4a" stroke-width="1.3"/>
<path d="M156.81 495.65V507.93M153.91 495.65H159.71M153.91 507.93H159.71" fill="none" stroke="#4a4a4a" stroke-width="1.3"/>
<path d="M176.28 506.76V541.75M173.38 506.76H179.18M173.38 541.75H179.18" fill="none" stroke="#4a4a4a" stroke-width="1.3"/>
<path d="M195.09 552.98V588.55M192.19 552.98H197.99M192.19 588.55H197.99" fill="none" stroke="#4a4a4a" stroke-width="1.3"/>
<path d="M98.38 567.02V575.79M95.48 567.02H101.28M95.48 575.79H101.28" fill="none" stroke="#4a4a4a" stroke-width="1.3"/>
<path d="M117.85 582.81V589.25M114.95 582.81H120.75M114.95 589.25H120.75" fill="none" stroke="#4a4a4a" stroke-width="1.3"/>
<path d="M98.38 568.95L100.78 571.35L98.38 573.75L95.98 571.35Z" fill="#21407f"/>
<path d="M117.85 583.81L120.25 586.21L117.85 588.61L115.45 586.21Z" fill="#21407f"/>
<path d="M137.33 591.88L139.73 594.28L137.33 596.68L134.93 594.28Z" fill="#21407f"/>
<path d="M156.81 596.68L159.21 599.08L156.81 601.48L154.41 599.08Z" fill="#21407f"/>
<path d="M176.28 599.95L178.68 602.35L176.28 604.75L173.88 602.35Z" fill="#21407f"/>
<path d="M195.09 601.01L197.49 603.41L195.09 605.81L192.69 603.41Z" fill="#21407f"/>
<path d="M214.57 602.29L216.97 604.69L214.57 607.09L212.17 604.69Z" fill="#21407f"/>
<path d="M234.05 603L236.45 605.4L234.05 607.8L231.65 605.4Z" fill="#21407f"/>
<path d="M253.52 603.23L255.92 605.63L253.52 608.03L251.12 605.63Z" fill="#21407f"/>
<path d="M273 603.46L275.4 605.86L273 608.26L270.6 605.86Z" fill="#21407f"/>
<path d="M98.38 504.3L101.33 509.6L95.43 509.6Z" fill="#b0062c"/>
<path d="M117.85 518.69L120.8 524L114.9 524Z" fill="#b0062c"/>
<path d="M137.33 537.99L140.28 543.3L134.38 543.3Z" fill="#b0062c"/>
<path d="M156.81 555.77L159.76 561.08L153.86 561.08Z" fill="#b0062c"/>
<path d="M176.28 578L179.23 583.31L173.33 583.31Z" fill="#b0062c"/>
<path d="M195.09 591.81L198.04 597.12L192.14 597.12Z" fill="#b0062c"/>
<path d="M214.57 600.24L217.52 605.54L211.62 605.54Z" fill="#b0062c"/>
<path d="M234.05 601.99L237 607.3L231.1 607.3Z" fill="#b0062c"/>
<path d="M253.52 602.58L256.47 607.88L250.57 607.88Z" fill="#b0062c"/>
<path d="M273 603.16L275.95 608.47L270.05 608.47Z" fill="#b0062c"/>
<path d="M95.43 477.13L101.33 477.13L98.38 482.44Z" fill="#b0062c"/>
<path d="M114.9 478.18L120.8 478.18L117.85 483.49Z" fill="#b0062c"/>
<path d="M134.38 480.99L140.28 480.99L137.33 486.3Z" fill="#b0062c"/>
<path d="M153.86 486.38L159.76 486.38L156.81 491.68Z" fill="#b0062c"/>
<path d="M173.33 490.24L179.23 490.24L176.28 495.55Z" fill="#b0062c"/>
<path d="M192.14 493.39L198.04 493.39L195.09 498.7Z" fill="#b0062c"/>
<path d="M211.62 501.7L217.52 501.7L214.57 507.01Z" fill="#b0062c"/>
<path d="M231.1 504.39L237 504.39L234.05 509.7Z" fill="#b0062c"/>
<path d="M250.57 515.39L256.47 515.39L253.52 520.7Z" fill="#b0062c"/>
<path d="M270.05 558.68L275.95 558.68L273 563.99Z" fill="#b0062c"/>
<circle cx="98.38" cy="491.55" r="3" fill="#5cae3c"/>
<circle cx="117.85" cy="491.55" r="3" fill="#5cae3c"/>
<circle cx="137.33" cy="492.72" r="3" fill="#5cae3c"/>
<circle cx="156.81" cy="499.98" r="3" fill="#5cae3c"/>
<circle cx="176.28" cy="521.04" r="3" fill="#5cae3c"/>
<circle cx="195.09" cy="554.97" r="3" fill="#5cae3c"/>
<circle cx="214.57" cy="603.29" r="3" fill="#5cae3c"/>
<circle cx="234.05" cy="605.63" r="3" fill="#5cae3c"/>
<circle cx="253.52" cy="605.86" r="3" fill="#5cae3c"/>
<circle cx="273" cy="606.21" r="3" fill="#5cae3c"/>
<rect x="95.58" y="486.18" width="5.6" height="5.6" fill="#5cae3c"/>
<rect x="115.05" y="485.83" width="5.6" height="5.6" fill="#5cae3c"/>
<rect x="134.53" y="489.11" width="5.6" height="5.6" fill="#5cae3c"/>
<rect x="154.01" y="499.05" width="5.6" height="5.6" fill="#5cae3c"/>
<rect x="173.48" y="520.11" width="5.6" height="5.6" fill="#5cae3c"/>
<rect x="192.29" y="567.73" width="5.6" height="5.6" fill="#5cae3c"/>
<rect x="211.77" y="600.96" width="5.6" height="5.6" fill="#5cae3c"/>
<rect x="231.25" y="602.36" width="5.6" height="5.6" fill="#5cae3c"/>
<rect x="250.72" y="602.36" width="5.6" height="5.6" fill="#5cae3c"/>
<rect x="270.2" y="603.41" width="5.6" height="5.6" fill="#5cae3c"/>
<circle cx="98.38" cy="495.42" r="2.65" fill="none" stroke="#21407f" stroke-width="1.5"/>
<circle cx="117.85" cy="494.83" r="2.65" fill="none" stroke="#21407f" stroke-width="1.5"/>
<circle cx="137.33" cy="494.83" r="2.65" fill="none" stroke="#21407f" stroke-width="1.5"/>
<circle cx="156.81" cy="494.48" r="2.65" fill="none" stroke="#21407f" stroke-width="1.5"/>
<circle cx="176.28" cy="499.28" r="2.65" fill="none" stroke="#21407f" stroke-width="1.5"/>
<circle cx="195.09" cy="502.08" r="2.65" fill="none" stroke="#21407f" stroke-width="1.5"/>
<circle cx="214.57" cy="514.37" r="2.65" fill="none" stroke="#21407f" stroke-width="1.5"/>
<circle cx="234.05" cy="540.69" r="2.65" fill="none" stroke="#21407f" stroke-width="1.5"/>
<circle cx="253.52" cy="586.21" r="2.65" fill="none" stroke="#21407f" stroke-width="1.5"/>
<path d="M314.5 500L328.4 500" fill="none" stroke="#5cae3c" stroke-width="1.6" stroke-linejoin="round"/>
<circle cx="321.4" cy="500" r="2.8" fill="#5cae3c"/>
<text x="332.6" y="503.6" font-size="11.2" text-anchor="start" textLength="152.9" lengthAdjust="spacingAndGlyphs" fill="#111">MOLM-13 parental + LAM-003</text>
<path d="M314.5 514.6L328.4 514.6" fill="none" stroke="#5cae3c" stroke-width="1.6" stroke-dasharray="1.2 1.3" stroke-linejoin="round"/>
<rect x="318.3" y="511.5" width="6.2" height="6.2" fill="#5cae3c"/>
<text x="332.6" y="518.2" font-size="11.2" text-anchor="start" textLength="171.4" lengthAdjust="spacingAndGlyphs" fill="#111">MOLM-13-RES D835Y + LAM003</text>
<path d="M314.5 534.9L328.4 534.9" fill="none" stroke="#b0062c" stroke-width="1.6" stroke-linejoin="round"/>
<path d="M321.4 531.8L324.4 537.2L318.4 537.2Z" fill="#b0062c"/>
<text x="332.6" y="538.5" font-size="11.2" text-anchor="start" textLength="155.2" lengthAdjust="spacingAndGlyphs" fill="#111">MOLM-13 parental + tandutinib</text>
<path d="M314.5 548.9L328.4 548.9" fill="none" stroke="#b0062c" stroke-width="1.6" stroke-dasharray="2.6 2" stroke-linejoin="round"/>
<path d="M318.4 546.6L324.4 546.6L321.4 552Z" fill="#b0062c"/>
<text x="332.6" y="552.5" font-size="11.2" text-anchor="start" textLength="176.7" lengthAdjust="spacingAndGlyphs" fill="#111">MOLM-13-RES D835Y + tandutinib</text>
<path d="M314.5 569.5L328.4 569.5" fill="none" stroke="#21407f" stroke-width="1.6" stroke-linejoin="round"/>
<path d="M321.4 566.8L324.1 569.5L321.4 572.2L318.7 569.5Z" fill="#21407f"/>
<text x="332.6" y="573.1" font-size="11.2" text-anchor="start" textLength="151.7" lengthAdjust="spacingAndGlyphs" fill="#111">MOLM-13 parental + sorafenib</text>
<path d="M314.5 583.8L328.4 583.8" fill="none" stroke="#21407f" stroke-width="1.6" stroke-dasharray="1.2 1.3" stroke-linejoin="round"/>
<circle cx="321.4" cy="583.8" r="2.7" fill="none" stroke="#21407f" stroke-width="1.4"/>
<text x="332.6" y="587.4" font-size="11.2" text-anchor="start" textLength="173.9" lengthAdjust="spacingAndGlyphs" fill="#111">MOLM-13-RES D835Y + sorafenib</text>
<rect x="0" y="0" width="520" height="1.8" fill="#000"/>
<rect x="0" y="0" width="1.8" height="661" fill="#000"/>
<rect x="517.7" y="0" width="2.3" height="661" fill="#000"/>
<rect x="0" y="658.7" width="520" height="2.3" fill="#000"/>
</svg>

</body></html>
